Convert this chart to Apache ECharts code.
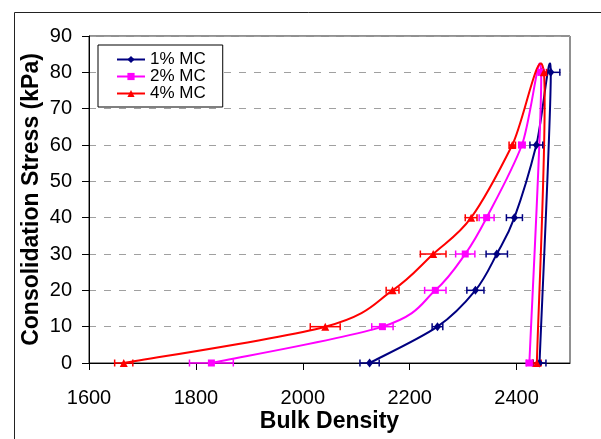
<!DOCTYPE html>
<html>
<head>
<meta charset="utf-8">
<style>
  html, body { margin: 0; padding: 0; background: #fff; }
  #chart { width: 601px; height: 439px; }
</style>
<script src="https://cdn.jsdelivr.net/npm/echarts@6/dist/echarts.min.js"></script>
</head>
<body>
<div id="chart"></div>
<script>
// stress levels: loading 0..80 kPa, then unloading back to 0
var stress = [0, 10, 20, 30, 40, 60, 80, 0]

var density1 = [2125, 2252, 2323, 2363, 2396, 2437, 2464, 2443]
var err1 = [18, 10, 16, 20, 15, 12, 17, 12]

var density2 = [1829, 2149, 2248, 2304, 2344, 2410, 2446, 2424]
var err2 = [41, 20, 20, 18, 14, 6, 5, 6]

var density4 = [1665, 2042, 2168, 2244, 2315, 2392, 2451, 2438]
var err4 = [17, 28, 12, 24, 11, 6, 5, 8]

var xTicks = [1600, 1800, 2000, 2200, 2400]

var font = 'Liberation Sans, Arial, sans-serif'

function pairs(xs) {
  return xs.map(function(x, i) { return [x, stress[i]] })
}

function errorBars(xs, errs, color) {
  return {
    type: 'custom',
    z: 3,
    silent: true,
    data: xs.map(function(x, i) { return [x, stress[i], errs[i]] }),
    renderItem: function(params, api) {
      var x = api.value(0)
      var y = api.value(1)
      var e = api.value(2)
      var p0 = api.coord([x - e, y])
      var p1 = api.coord([x + e, y])
      var h = 3.5
      var style = { stroke: color, lineWidth: 1.5 }
      return {
        type: 'group',
        children: [
          { type: 'line', shape: { x1: p0[0], y1: p0[1], x2: p1[0], y2: p1[1] }, style: style },
          { type: 'line', shape: { x1: p0[0], y1: p0[1] - h, x2: p0[0], y2: p0[1] + h }, style: style },
          { type: 'line', shape: { x1: p1[0], y1: p1[1] - h, x2: p1[0], y2: p1[1] + h }, style: style }
        ]
      }
    }
  }
}

// smoothed line like the spreadsheet one (catmull-rom, may overshoot at the top)
function smoothCurve(xs, color) {
  var n = xs.length
  return {
    type: 'custom',
    z: 2,
    silent: true,
    data: pairs(xs),
    renderItem: function(params, api) {
      var i = params.dataIndex
      if (i >= n - 1) return null
      var pt = function(j) {
        j = Math.max(0, Math.min(n - 1, j))
        return api.coord([xs[j], stress[j]])
      }
      var p0 = pt(i - 1), p1 = pt(i), p2 = pt(i + 1), p3 = pt(i + 2)
      return {
        type: 'bezierCurve',
        shape: {
          x1: p1[0], y1: p1[1],
          x2: p2[0], y2: p2[1],
          cpx1: p1[0] + (p2[0] - p0[0]) / 6,
          cpy1: p1[1] + (p2[1] - p0[1]) / 6,
          cpx2: p2[0] - (p3[0] - p1[0]) / 6,
          cpy2: p2[1] - (p3[1] - p1[1]) / 6
        },
        style: { stroke: color, lineWidth: 2, fill: null }
      }
    }
  }
}

function markers(name, xs, color, symbol, size) {
  return {
    name: name,
    type: 'line',
    z: 4,
    data: pairs(xs),
    symbol: symbol,
    symbolSize: size,
    showAllSymbol: true,
    lineStyle: { color: color, width: 2, opacity: 0 },
    itemStyle: { color: color, borderWidth: 0 }
  }
}

var chart = echarts.init(document.getElementById('chart'))

chart.setOption({
  animation: false,
  backgroundColor: '#fff',
  textStyle: { fontFamily: font, color: '#000' },
  graphic: [{
    type: 'rect',
    left: 12,
    top: 10,
    shape: { width: 620, height: 460 },
    style: { fill: null, stroke: '#222', lineWidth: 1 },
    silent: true
  }],
  grid: {
    left: 89,
    right: 31,
    top: 36,
    bottom: 76,
    show: true,
    borderColor: '#222',
    borderWidth: 1,
    backgroundColor: '#fff'
  },
  legend: {
    orient: 'vertical',
    left: 98,
    top: 45,
    data: [
      { name: '1% MC', lineStyle: { opacity: 1 } },
      { name: '2% MC', lineStyle: { opacity: 1 } },
      { name: '4% MC', lineStyle: { opacity: 1 } }
    ],
    itemWidth: 28,
    itemHeight: 9,
    itemGap: 0,
    padding: [6, 17, 5, 18],
    borderColor: '#000',
    borderWidth: 1,
    borderRadius: 0,
    backgroundColor: '#fff',
    textStyle: { fontFamily: font, fontSize: 17, color: '#000', lineHeight: 16 }
  },
  xAxis: {
    type: 'value',
    min: 1600,
    max: 2500,
    interval: 100,
    name: 'Bulk Density',
    nameLocation: 'middle',
    nameGap: 47,
    nameMoveOverlap: false,
    nameTextStyle: { fontFamily: font, fontSize: 23, fontWeight: 'bold', color: '#000' },
    axisLine: { lineStyle: { color: '#000', width: 1 } },
    axisTick: { show: true, length: 7, inside: false, customValues: xTicks, lineStyle: { color: '#000' } },
    axisLabel: {
      fontFamily: font, fontSize: 20, color: '#000', margin: 25, customValues: xTicks,
      formatter: function(v) { return String(v) }
    },
    splitLine: { show: false }
  },
  yAxis: {
    type: 'value',
    min: 0,
    max: 90,
    interval: 10,
    name: 'Consolidation Stress (kPa)',
    nameLocation: 'middle',
    nameGap: 46,
    nameMoveOverlap: false,
    nameTextStyle: { fontFamily: font, fontSize: 23, fontWeight: 'bold', color: '#000' },
    axisLine: { show: true, lineStyle: { color: '#000', width: 1 } },
    axisTick: { show: true, length: 7, lineStyle: { color: '#000' } },
    axisLabel: { fontFamily: font, fontSize: 20, color: '#000', margin: 17 },
    splitLine: { show: true, lineStyle: { color: '#a0a0a0', width: 1, type: [7, 8] } }
  },
  series: [
    smoothCurve(density1, '#000080'),
    smoothCurve(density2, '#ff00ff'),
    smoothCurve(density4, '#ff0000'),
    errorBars(density1, err1, '#000080'),
    errorBars(density2, err2, '#ff00ff'),
    errorBars(density4, err4, '#ff0000'),
    markers('1% MC', density1, '#000080', 'diamond', [7, 9]),
    markers('2% MC', density2, '#ff00ff', 'rect', 7),
    markers('4% MC', density4, '#ff0000', 'triangle', 8)
  ]
})
</script>
</body>
</html>
